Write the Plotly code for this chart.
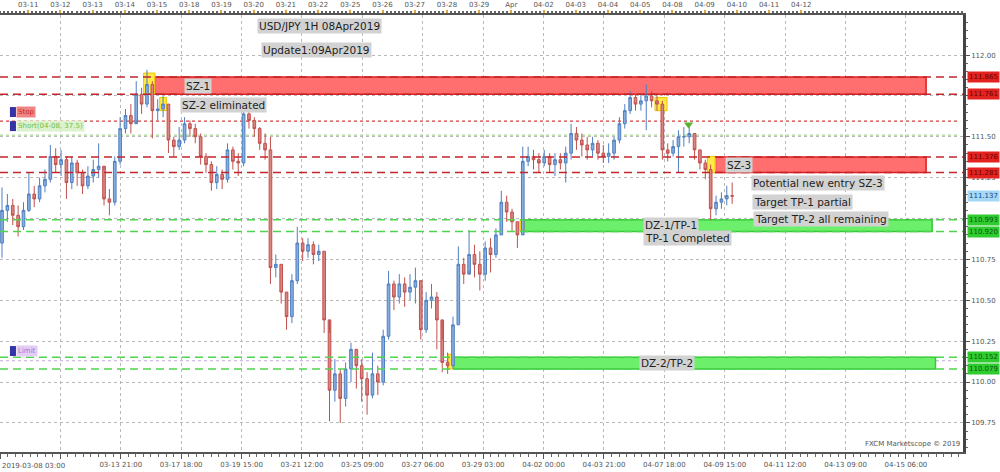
import plotly.graph_objects as go

# ---------------- data (4-hour candles) ----------------
first_open = 110.85
closes = [111.05, 111.08, 111.02, 110.95, 111.05, 111.15, 111.12, 111.20, 111.24, 111.38,
          111.33, 111.36, 111.22, 111.34, 111.28, 111.20, 111.26, 111.30, 111.32, 111.12,
          111.10, 111.35, 111.55, 111.63, 111.58, 111.76, 111.70, 111.82, 111.66, 111.67,
          111.70, 111.48, 111.44, 111.48, 111.58, 111.55, 111.50, 111.38, 111.33, 111.22,
          111.27, 111.24, 111.42, 111.35, 111.34, 111.64, 111.60, 111.55, 111.46, 111.42,
          110.70, 110.72, 110.55, 110.40, 110.62, 110.85, 110.80, 110.84, 110.78, 110.80,
          110.38, 109.95, 110.05, 109.90, 110.08, 110.20, 110.10, 110.02, 109.92, 110.05,
          110.00, 110.28, 110.60, 110.52, 110.60, 110.55, 110.58, 110.62, 110.32, 110.50,
          110.52, 110.38, 110.12, 110.10, 110.35, 110.72, 110.66, 110.78, 110.72, 110.66,
          110.82, 110.78, 110.90, 111.10, 111.04, 110.98, 110.90, 111.35, 111.38, 111.36,
          111.34, 111.38, 111.33, 111.36, 111.34, 111.40, 111.52, 111.48, 111.45, 111.42,
          111.46, 111.40, 111.38, 111.40, 111.48, 111.58, 111.66, 111.74, 111.70, 111.72,
          111.75, 111.72, 111.70, 111.42, 111.40, 111.44, 111.50, 111.50, 111.52, 111.42,
          111.34, 111.30, 111.06, 111.10, 111.12, 111.14, 111.137]
highs = [111.19, 111.15, 111.12, 111.08, 111.10, 111.28, 111.20, 111.25, 111.30, 111.45,
         111.43, 111.42, 111.38, 111.38, 111.36, 111.30, 111.32, 111.36, 111.46, 111.30,
         111.18, 111.38, 111.62, 111.67, 111.70, 111.84, 111.80, 111.91, 111.84, 111.73,
         111.75, 111.70, 111.50, 111.56, 111.62, 111.60, 111.58, 111.52, 111.40, 111.35,
         111.32, 111.30, 111.46, 111.44, 111.40, 111.68, 111.66, 111.62, 111.56, 111.52,
         111.50, 110.78, 110.72, 110.55, 110.66, 110.95, 110.88, 110.88, 110.86, 110.84,
         110.80, 110.30, 110.14, 110.08, 110.12, 110.24, 110.20, 110.14, 110.06, 110.18,
         110.10, 110.32, 110.68, 110.62, 110.66, 110.64, 110.66, 110.70, 110.62, 110.55,
         110.60, 110.55, 110.26, 110.18, 110.40, 110.83, 110.76, 110.93, 110.84, 110.80,
         110.86, 110.88, 110.94, 111.17, 111.14, 111.06, 110.98, 111.44, 111.44, 111.42,
         111.40, 111.42, 111.40, 111.40, 111.40, 111.44, 111.58, 111.56, 111.52, 111.50,
         111.50, 111.48, 111.45, 111.46, 111.50, 111.62, 111.70, 111.78, 111.76, 111.76,
         111.82, 111.78, 111.76, 111.72, 111.46, 111.48, 111.54, 111.56, 111.57, 111.52,
         111.42, 111.36, 111.33, 111.14, 111.16, 111.20, 111.22]
lows = [110.76, 110.98, 110.96, 110.89, 110.93, 111.04, 111.07, 111.10, 111.16, 111.22,
        111.28, 111.26, 111.12, 111.18, 111.20, 111.15, 111.18, 111.22, 111.25, 111.08,
        111.02, 111.08, 111.33, 111.52, 111.52, 111.60, 111.64, 111.68, 111.49, 111.60,
        111.62, 111.40, 111.38, 111.42, 111.46, 111.50, 111.46, 111.33, 111.28, 111.17,
        111.18, 111.18, 111.22, 111.30, 111.26, 111.32, 111.55, 111.50, 111.42, 111.36,
        110.60, 110.64, 110.48, 110.32, 110.36, 110.60, 110.74, 110.76, 110.72, 110.74,
        110.30, 109.76, 109.88, 109.75, 109.85, 110.00, 109.96, 109.88, 109.80, 109.90,
        109.92, 109.98, 110.26, 110.44, 110.48, 110.46, 110.50, 110.48, 110.26, 110.30,
        110.45, 110.20, 110.06, 110.05, 110.08, 110.35, 110.60, 110.68, 110.64, 110.56,
        110.62, 110.67, 110.76, 110.90, 110.98, 110.92, 110.82, 110.90, 111.32, 111.30,
        111.28, 111.32, 111.28, 111.26, 111.30, 111.22, 111.36, 111.42, 111.38, 111.36,
        111.38, 111.36, 111.34, 111.34, 111.36, 111.46, 111.55, 111.64, 111.66, 111.66,
        111.54, 111.68, 111.66, 111.36, 111.35, 111.38, 111.28, 111.44, 111.46, 111.36,
        111.30, 111.24, 110.99, 111.02, 111.06, 111.08, 111.09]
opens = [first_open] + closes[:-1]
bars_per_candle = 4
candle_x = [bars_per_candle * k + 1.5 for k in range(len(closes))]

# price levels
red_levels = [111.865, 111.761, 111.376, 111.281]
green_levels = [110.993, 110.920, 110.152, 110.079]
current_price = 111.137
stop_level = 111.596
short_level = 111.51
limit_level = 110.13

# zones (bar index start/end, low, high)
zone_names = ["SZ-1", "SZ-3", "DZ-1", "DZ-2"]
zone_x0 = [115.5, 533, 390.5, 338]
zone_x1 = [690, 690, 694.5, 697]
zone_lo = [111.761, 111.281, 110.920, 110.079]
zone_hi = [111.865, 111.376, 110.993, 110.152]
zone_kind = ["supply", "supply", "demand", "demand"]

# yellow base-candle highlights
hl_x0 = [107, 119, 527, 387.5, 334, 488]
hl_x1 = [115.5, 124, 533, 390.5, 338, 497]
hl_lo = [111.765, 111.66, 111.28, 110.92, 110.08, 111.66]
hl_hi = [111.89, 111.74, 111.38, 110.993, 110.17, 111.74]

# axes
top_tick_bars = [21, 45, 69, 93, 117, 141, 165, 189, 213, 237, 261, 285, 309, 333, 357,
                 381, 405, 429, 453, 477, 501, 525, 549, 573, 597]
top_tick_labels = ["03-11", "03-12", "03-13", "03-14", "03-15", "03-18", "03-19", "03-20",
                   "03-21", "03-22", "03-25", "03-26", "03-27", "03-28", "03-29", "Apr",
                   "04-02", "04-03", "04-04", "04-05", "04-08", "04-09", "04-10", "04-11", "04-12"]
bottom_tick_bars = [0, 45, 90, 135, 180, 225, 270, 315, 360, 405, 450, 495, 540, 585, 630, 675]
bottom_tick_labels = ["", "", "03-13 21:00", "03-17 18:00", "03-19 15:00", "03-21 12:00",
                      "03-25 09:00", "03-27 06:00", "03-29 03:00", "04-02 00:00", "04-03 21:00",
                      "04-07 18:00", "04-09 15:00", "04-11 12:00", "04-13 09:00", "04-15 06:00"]
first_bottom_label = "2019-03-08 03:00"
price_tick_vals = [109.75, 110.00, 110.25, 110.50, 110.75, 111.00, 111.25, 111.50, 111.75, 112.00]
price_tick_text = ["109.75", "110.00", "110.25", "110.50", "110.75", "", "111.25", "111.50", "", "112.00"]

X_RANGE = [0, 717.5]
Y_RANGE = [109.572, 112.245]

FONT = "DejaVu Sans"

fig = go.Figure()
fig.add_trace(go.Candlestick(
    x=candle_x, open=opens, high=highs, low=lows, close=closes,
    increasing=dict(line=dict(color="#4f7fbf", width=1), fillcolor="#86aede"),
    decreasing=dict(line=dict(color="#c0504d", width=1), fillcolor="#d98582"),
    whiskerwidth=0, hoverinfo="skip", showlegend=False,
))
# green arrow signal
fig.add_trace(go.Scatter(x=[513], y=[111.575], mode="markers",
                         marker=dict(symbol="triangle-down", size=8, color="#5cb030"),
                         hoverinfo="skip", showlegend=False))
# top axis carrier
fig.add_trace(go.Scatter(x=[None], y=[None], xaxis="x2", showlegend=False, hoverinfo="skip"))

shapes = []
# zones
for x0, x1, lo, hi, kind in zip(zone_x0, zone_x1, zone_lo, zone_hi, zone_kind):
    if kind == "supply":
        fill, line = "#ff6f6f", "#e01c1c"
    else:
        fill, line = "#6cf06c", "#36c936"
    shapes.append(dict(type="rect", xref="x", yref="y", x0=x0, x1=x1, y0=lo, y1=hi,
                       fillcolor=fill, line=dict(color=line, width=1.5), layer="between"))
# highlights
for x0, x1, lo, hi in zip(hl_x0, hl_x1, hl_lo, hl_hi):
    shapes.append(dict(type="rect", xref="x", yref="y", x0=x0, x1=x1, y0=lo, y1=hi,
                       fillcolor="rgba(255,230,40,0.85)", line=dict(color="#e8c800", width=1),
                       layer="between"))
# dashed level lines
for lv in red_levels:
    shapes.append(dict(type="line", xref="paper", yref="y", x0=0, x1=1, y0=lv, y1=lv,
                       line=dict(color="#c2262b", width=1.5, dash="8px,5px"), layer="above"))
for lv in green_levels:
    shapes.append(dict(type="line", xref="paper", yref="y", x0=0, x1=1, y0=lv, y1=lv,
                       line=dict(color="#4fd44f", width=1.5, dash="8px,5px"), layer="above"))
# order lines
shapes.append(dict(type="line", xref="paper", yref="y", x0=0, x1=0.997, y0=stop_level, y1=stop_level,
                   line=dict(color="#d23c3c", width=1.2, dash="dot"), layer="between"))
shapes.append(dict(type="line", xref="paper", yref="y", x0=0, x1=0.997, y0=short_level, y1=short_level,
                   line=dict(color="#a9d394", width=1.2, dash="dot"), layer="between"))
shapes.append(dict(type="line", xref="paper", yref="y", x0=0, x1=0.997, y0=limit_level, y1=limit_level,
                   line=dict(color="#c4a6e2", width=1.2, dash="dot"), layer="between"))
# order marker squares
for lo, hi in [(111.621, 111.682), (111.535, 111.596), (110.159, 110.220)]:
    shapes.append(dict(type="rect", xref="x", yref="y", x0=7.4, x1=11.9, y0=lo, y1=hi,
                       fillcolor="#3434a8", line=dict(width=0), layer="above"))

annotations = []


def box_text(text, x, y, size=10.5):
    annotations.append(dict(text=text, x=x, y=y, xref="x", yref="y", xanchor="left",
                            yanchor="middle", showarrow=False, bgcolor="#d2d2d2", borderpad=1,
                            font=dict(family=FONT, size=size, color="#1e1e1e")))


box_text("USD/JPY 1H 08Apr2019", 191.5, 112.177)
box_text("Update1:09Apr2019", 194.5, 112.03)
box_text("SZ-1", 137, 111.81)
box_text("SZ-2 eliminated", 134, 111.694)
box_text("SZ-3", 540, 111.33)
box_text("Potential new entry SZ-3", 559.5, 111.22)
box_text("Target TP-1 partial", 560, 111.10)
box_text("Target TP-2 all remaining", 561, 110.997)
box_text("DZ-1/TP-1", 479, 110.96)
box_text("TP-1 Completed", 479, 110.88)
box_text("DZ-2/TP-2", 476, 110.116)

# order labels
for text, y, bg, fc in [("Stop", 111.651, "#f08585", "#c52a2a"),
                        ("Short(04-08, 37.5)", 111.566, "#dcf2cf", "#6cbf4a"),
                        ("Limit", 110.190, "#e3cdf4", "#a878d8")]:
    annotations.append(dict(text=text, x=12.2, y=y, xref="x", yref="y", xanchor="left",
                            yanchor="middle", showarrow=False, bgcolor=bg, borderpad=1,
                            font=dict(family=FONT, size=7, color=fc)))

# right-side price tags
tag_styles = ([(lv, "#e3231f", "#6e0000") for lv in red_levels] +
              [(lv, "#2fcc2f", "#0b560b") for lv in green_levels] +
              [(current_price, "#a4d8f6", "#173f86")])
for lv, bg, fc in tag_styles:
    annotations.append(dict(text=f"{lv:.3f}", x=1.004, y=lv, xref="paper", yref="y",
                            xanchor="left", yanchor="middle", showarrow=False, bgcolor=bg,
                            borderpad=1, font=dict(family=FONT, size=7, color=fc)))

annotations.append(dict(text=first_bottom_label, x=0, y=-0.018, xref="paper", yref="paper",
                        xanchor="left", yanchor="top", showarrow=False,
                        font=dict(family=FONT, size=7, color="#555")))
annotations.append(dict(text="FXCM Marketscope © 2019", x=0.999, y=0.004, xref="paper", yref="paper",
                        xanchor="right", yanchor="bottom", showarrow=False,
                        font=dict(family=FONT, size=7, color="#555")))

fig.update_layout(
    width=1000, height=472,
    margin=dict(l=0, r=37, t=15, b=20),
    paper_bgcolor="white", plot_bgcolor="white",
    showlegend=False,
    shapes=shapes, annotations=annotations,
    font=dict(family=FONT, size=7, color="#555"),
    xaxis=dict(range=X_RANGE, rangeslider=dict(visible=False), tickmode="array",
               tickvals=bottom_tick_bars, ticktext=bottom_tick_labels,
               showgrid=True, gridcolor="#b9b9b9", griddash="dot", gridwidth=1,
               zeroline=False, showline=True, linecolor="#555", linewidth=1.5,
               ticks="outside", ticklen=5, tickcolor="#555",
               tickfont=dict(family=FONT, size=7, color="#555"),
               minor=dict(tick0=0, dtick=5.625, ticks="outside", ticklen=3, tickcolor="#666", showgrid=False),
               automargin=False, fixedrange=True),
    xaxis2=dict(range=X_RANGE, overlaying="x", side="top", tickmode="array",
                tickvals=top_tick_bars, ticktext=top_tick_labels, showgrid=False,
                zeroline=False, showline=True, linecolor="#555", linewidth=1.5,
                ticks="outside", ticklen=3, tickcolor="#e0a53a", tickwidth=2,
                tickfont=dict(family=FONT, size=7, color="#555"),
                minor=dict(tick0=0, dtick=3, ticks="outside", ticklen=2, tickcolor="#666"),
                automargin=False),
    yaxis=dict(range=Y_RANGE, side="right", tickmode="array",
               tickvals=price_tick_vals, ticktext=price_tick_text,
               showgrid=True, gridcolor="#b9b9b9", griddash="dot", gridwidth=1,
               zeroline=False, showline=True, linecolor="#444", linewidth=2.5,
               ticks="outside", ticklen=4, tickcolor="#555",
               tickfont=dict(family=FONT, size=7, color="#555"),
               minor=dict(dtick=0.05, tick0=0, ticks="outside", ticklen=2, tickcolor="#666", showgrid=False),
               automargin=False),
)

fig.write_html("out.html", config={"displayModeBar": False},
               post_script="document.body.style.margin='0';document.body.style.padding='0';")
